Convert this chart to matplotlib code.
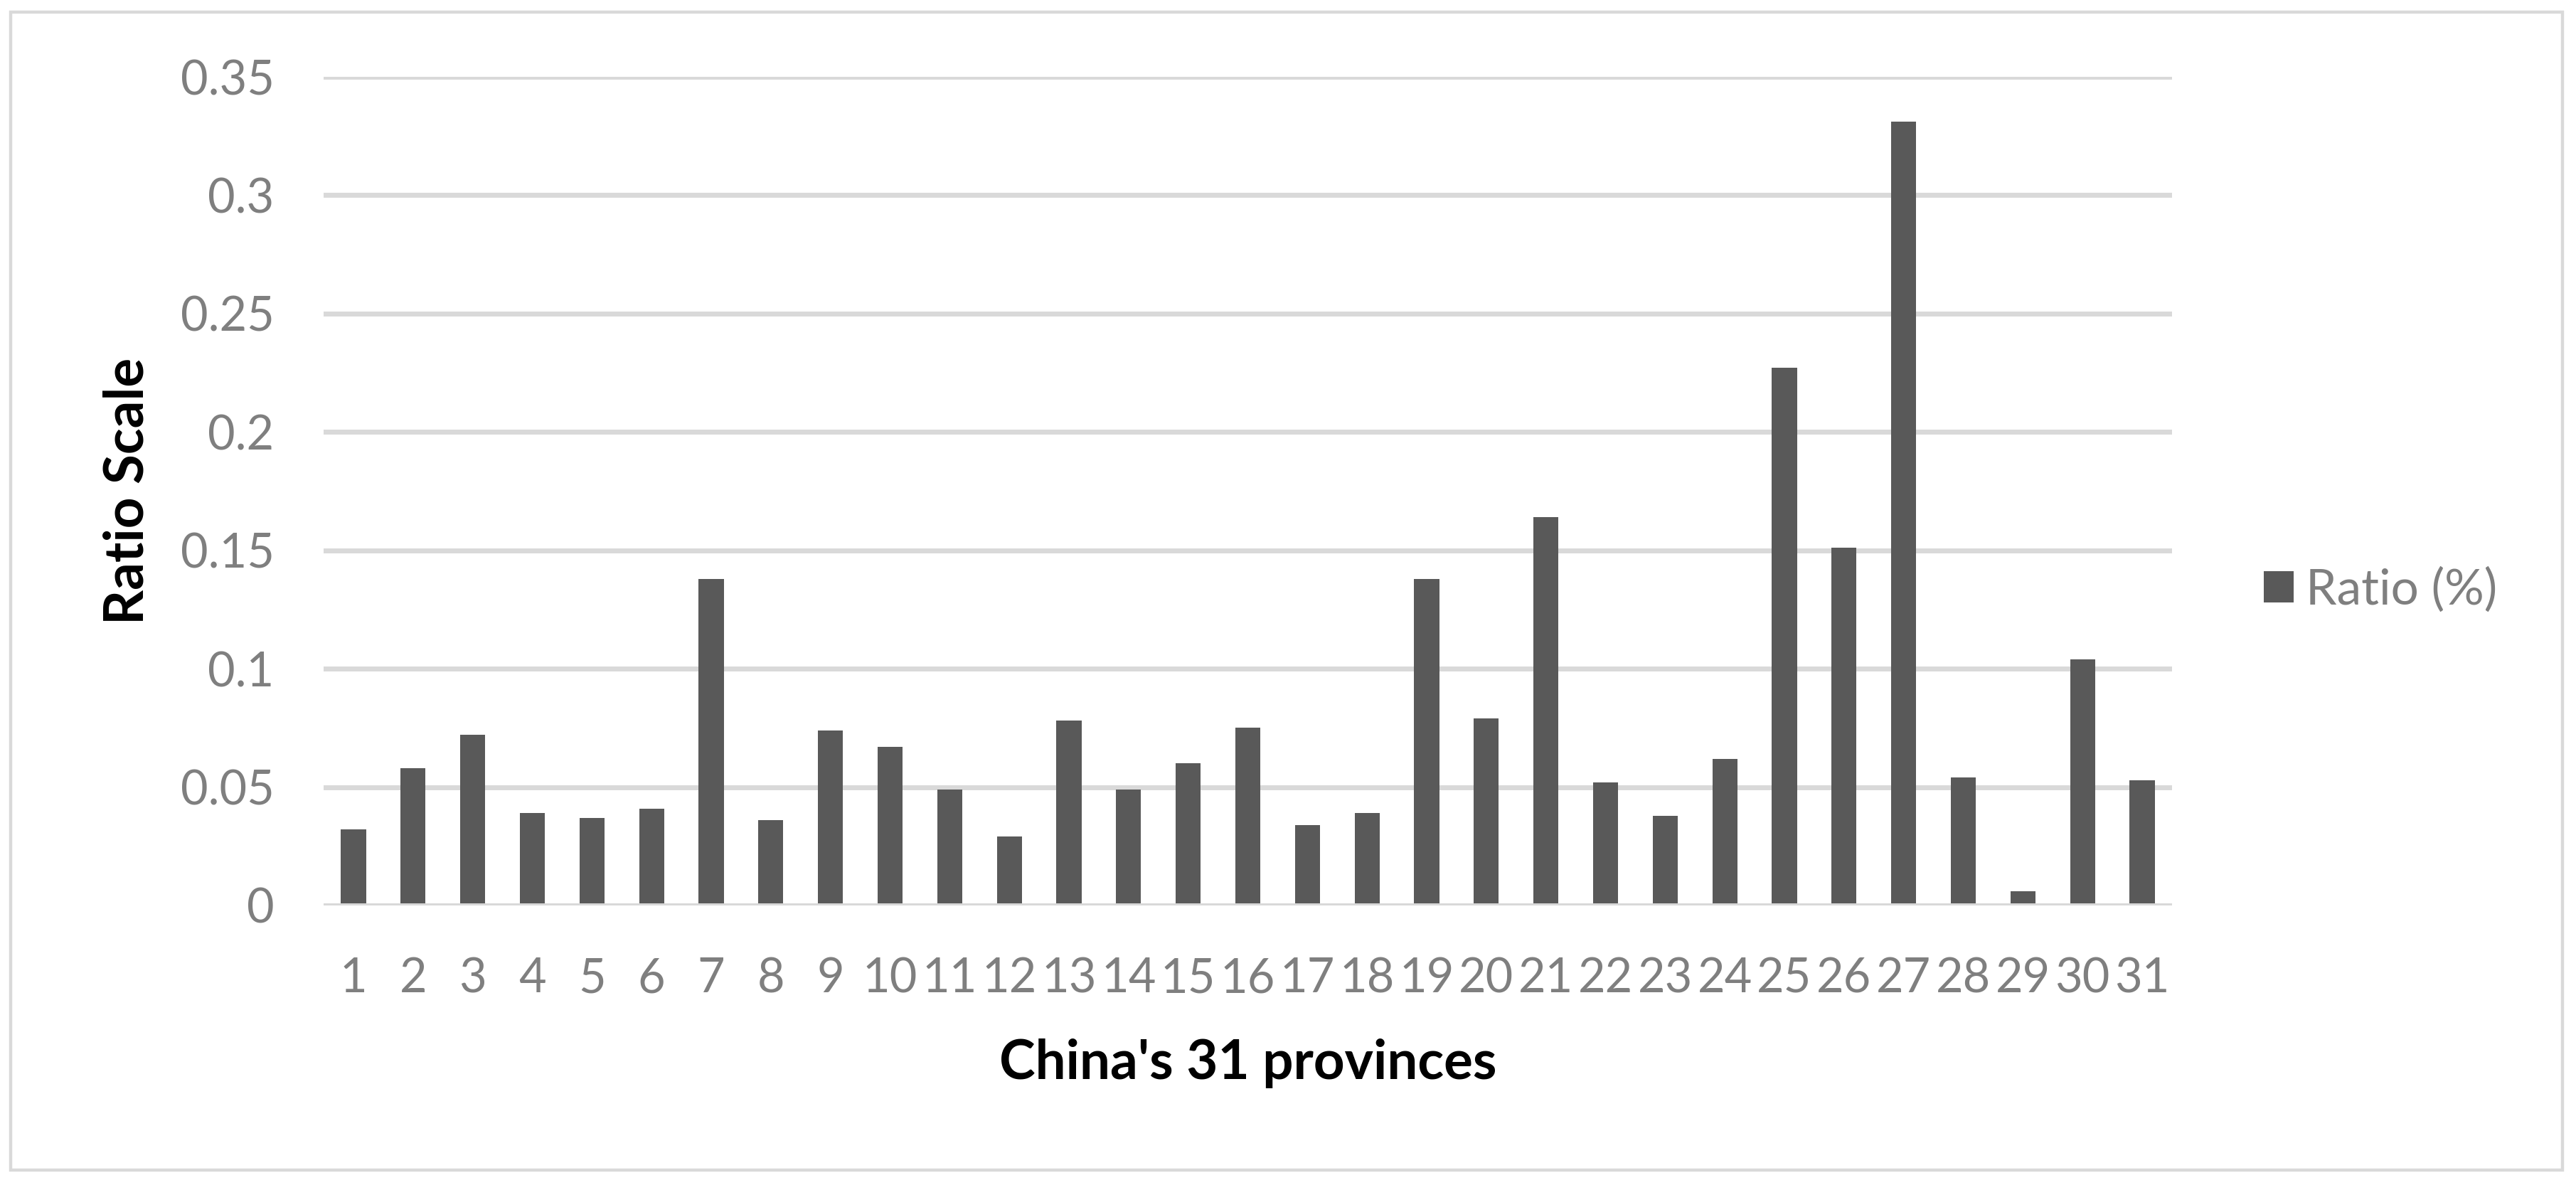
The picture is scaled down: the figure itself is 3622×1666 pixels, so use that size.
import matplotlib
matplotlib.use("Agg")
import matplotlib.pyplot as plt
from matplotlib.patches import Rectangle

plt.rcParams['font.family'] = ['Lato', 'DejaVu Sans']

provinces = [str(i) for i in range(1, 32)]
ratio = [0.032, 0.058, 0.072, 0.039, 0.037, 0.041, 0.138, 0.036, 0.074, 0.067,
         0.049, 0.029, 0.078, 0.049, 0.060, 0.075, 0.034, 0.039, 0.138, 0.079,
         0.164, 0.052, 0.038, 0.062, 0.227, 0.151, 0.331, 0.054, 0.006, 0.104,
         0.053]
yticks = [0, 0.05, 0.1, 0.15, 0.2, 0.25, 0.3, 0.35]
ytick_labels = ['0', '0.05', '0.1', '0.15', '0.2', '0.25', '0.3', '0.35']

W, H = 3622, 1666
fig = plt.figure(figsize=(W / 100, H / 100), dpi=100)
fig.patch.set_facecolor('white')

ax = fig.add_axes([455 / W, 1 - 1273 / H, (3054 - 455) / W, (1273 - 108) / H])
x = list(range(len(provinces)))
ax.bar(x, ratio, width=0.42, color='#595959', zorder=3, label='Ratio (%)')
ax.set_xlim(-0.5, len(provinces) - 0.5)
ax.set_ylim(0, 0.35)
ax.set_yticks(yticks)
ax.set_yticklabels(ytick_labels)
ax.set_xticks(x)
ax.set_xticklabels(provinces)
ax.tick_params(axis='both', length=0, labelsize=48, labelcolor='#7f7f7f')
ax.tick_params(axis='y', pad=50)
ax.tick_params(axis='x', pad=52)
for s in ax.spines.values():
    s.set_visible(False)
ax.grid(axis='y', color='#d9d9d9', linewidth=5, zorder=0)
ax.axhline(0, color='#d9d9d9', linewidth=5, zorder=4)

ax.set_xlabel("China's 31 provinces", fontsize=55, fontweight='bold', color='black')
ax.xaxis.set_label_coords(0.5, -(1495 - 1273) / (1273 - 108))
ax.xaxis.label.set_verticalalignment('center')
ax.set_ylabel("Ratio Scale", fontsize=55, fontweight='bold', color='black')
ax.yaxis.set_label_coords(-(455 - 180) / (3054 - 455), 0.5)
ax.yaxis.label.set_verticalalignment('center')

leg = fig.legend(loc='center left', bbox_to_anchor=(3183 / W, 1 - 829 / H),
                 frameon=False, fontsize=50, handlelength=0.6, handleheight=0.6,
                 handletextpad=0.25, borderpad=0, borderaxespad=0)
for t in leg.get_texts():
    t.set_color('#7f7f7f')

fig.patches.append(Rectangle((15 / W, 1 - 1645 / H), (3603 - 15) / W, (1645 - 17) / H,
                             transform=fig.transFigure, fill=False,
                             edgecolor='#d9d9d9', linewidth=3.2))

fig.savefig('out.png', dpi=100, facecolor='white')
